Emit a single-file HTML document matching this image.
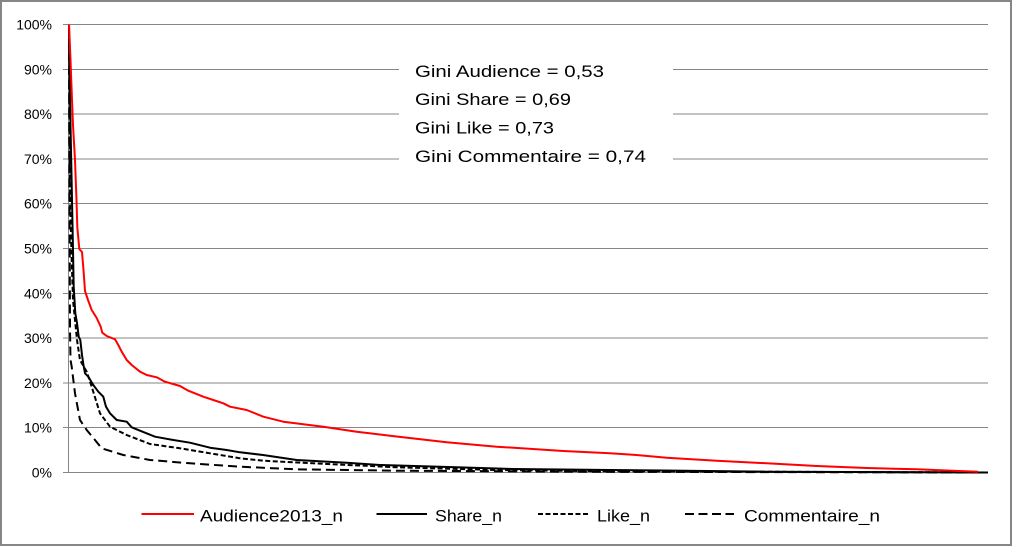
<!DOCTYPE html>
<html>
<head>
<meta charset="utf-8">
<style>
html,body{margin:0;padding:0;background:#fff;}
svg{display:block;}
text{font-family:"Liberation Sans",sans-serif;fill:#000;}
</style>
</head>
<body>
<svg width="1014" height="548" viewBox="0 0 1014 548" xmlns="http://www.w3.org/2000/svg">
<rect x="0" y="0" width="1014" height="548" fill="#fff"/>
<rect x="1" y="1" width="1010" height="544" fill="#fff" stroke="#868686" stroke-width="2"/>

<!-- gridlines -->
<g stroke="#868686" stroke-width="1" shape-rendering="crispEdges">
<line x1="63" y1="24.5" x2="988" y2="24.5"/>
<line x1="63" y1="69.3" x2="988" y2="69.3"/>
<line x1="63" y1="114.1" x2="988" y2="114.1"/>
<line x1="63" y1="158.9" x2="988" y2="158.9"/>
<line x1="63" y1="203.7" x2="988" y2="203.7"/>
<line x1="63" y1="248.5" x2="988" y2="248.5"/>
<line x1="63" y1="293.3" x2="988" y2="293.3"/>
<line x1="63" y1="338.1" x2="988" y2="338.1"/>
<line x1="63" y1="382.9" x2="988" y2="382.9"/>
<line x1="63" y1="427.7" x2="988" y2="427.7"/>
<line x1="63" y1="472.5" x2="988" y2="472.5"/>
<line x1="68.5" y1="24.5" x2="68.5" y2="472.5"/>
</g>

<!-- y labels -->
<g font-size="14" text-anchor="end">
<text x="52" y="29.5">100%</text>
<text x="52" y="74.3">90%</text>
<text x="52" y="119.1">80%</text>
<text x="52" y="163.9">70%</text>
<text x="52" y="208.7">60%</text>
<text x="52" y="253.5">50%</text>
<text x="52" y="298.3">40%</text>
<text x="52" y="343.1">30%</text>
<text x="52" y="387.9">20%</text>
<text x="52" y="432.7">10%</text>
<text x="52" y="477.5">0%</text>
</g>

<!-- Gini text box -->
<rect x="399" y="50" width="274" height="126" fill="#fff"/>
<g font-size="17">
<text x="415" y="77" textLength="189" lengthAdjust="spacingAndGlyphs">Gini Audience = 0,53</text>
<text x="415" y="105" textLength="156" lengthAdjust="spacingAndGlyphs">Gini Share = 0,69</text>
<text x="415" y="133.5" textLength="139" lengthAdjust="spacingAndGlyphs">Gini Like = 0,73</text>
<text x="415" y="162" textLength="231" lengthAdjust="spacingAndGlyphs">Gini Commentaire = 0,74</text>
</g>

<!-- series -->
<g fill="none" stroke-width="2" stroke-linejoin="round">
<polyline stroke="#000" stroke-dasharray="9,5" points="69,24.5 69.3,150 69.7,250 70,330 70.5,360 71.7,366.7 75,393.3 80,420 86.7,430 95,440 101.7,448.3 123.3,455 150,460 190,463.3 240,466.7 296.7,469.3 396.7,470.7 600,471.8 988,472.5"/>
<polyline stroke="#000" stroke-dasharray="5,2.5" points="69,24.5 69.5,100 70,200 71.7,260 73,300 75,320 77,340 80,360 86.7,371.7 91.7,386.7 100,413.3 110,426.7 126.7,435 150,444 180,448.3 210,453.3 240,458.3 263.3,460.7 313,463.3 396.7,467.3 496.7,470 600,471.2 988,472.5"/>
<polyline stroke="#000" points="69,24.5 69.5,60 70,100 71,150 72,200 73,250 73.7,286.7 75.3,313 77,323 78.7,336.7 80.3,340 82,355 83.5,365 85,373.3 88.3,376.7 93.3,385 98.3,391.7 103.3,396.7 106,406.7 110,413.3 116.7,420 126.7,421.7 131.7,427.3 140,430.7 155,436.7 173.3,440 190,442.7 210,447.7 226.7,450 240,452.3 263,455 296.7,460 346.7,462.7 380,465 440,466.7 513,469 610,470 663,470.5 766.7,471.7 988,472.5"/>
<polyline stroke="#ff0000" points="69,24.5 70.5,60 72,100 73,125 75,160 76.5,200 77.3,227 79.3,249 82,252 83.5,270 85,291 88,300 91.7,310 96.7,318 100.7,326.7 102.3,332.7 106.7,336 115,339.3 118.3,345 121.7,351.7 126.7,360 131.7,365 140,371.7 146.7,375 156.7,377.3 165,381.7 180,386 188.3,390.7 203.3,396.7 213.3,400 223.3,403.3 230,406.7 246.7,410 263.3,416.7 283.3,421.7 323.3,426.7 356.7,431.7 390,435.7 446.7,442.3 496.7,446.7 563.3,451 610,453.3 633,454.7 666.7,457.7 716.7,460.7 766.7,463.3 816.7,466 866.7,468 916.7,469.3 953,470.7 978,471.7"/>
</g>

<!-- legend -->
<g stroke-width="2" fill="none">
<line x1="141.5" y1="514" x2="194" y2="514" stroke="#ff0000"/>
<line x1="376.5" y1="514" x2="427" y2="514" stroke="#000"/>
<line x1="538" y1="514" x2="590" y2="514" stroke="#000" stroke-dasharray="5,2.5"/>
<line x1="685" y1="514" x2="734" y2="514" stroke="#000" stroke-dasharray="9,4.5"/>
</g>
<g font-size="17">
<text x="200" y="521.5" textLength="143" lengthAdjust="spacingAndGlyphs">Audience2013_n</text>
<text x="435" y="521.5" textLength="67" lengthAdjust="spacingAndGlyphs">Share_n</text>
<text x="597" y="521.5" textLength="53" lengthAdjust="spacingAndGlyphs">Like_n</text>
<text x="744" y="521.5" textLength="136" lengthAdjust="spacingAndGlyphs">Commentaire_n</text>
</g>
</svg>
</body>
</html>
